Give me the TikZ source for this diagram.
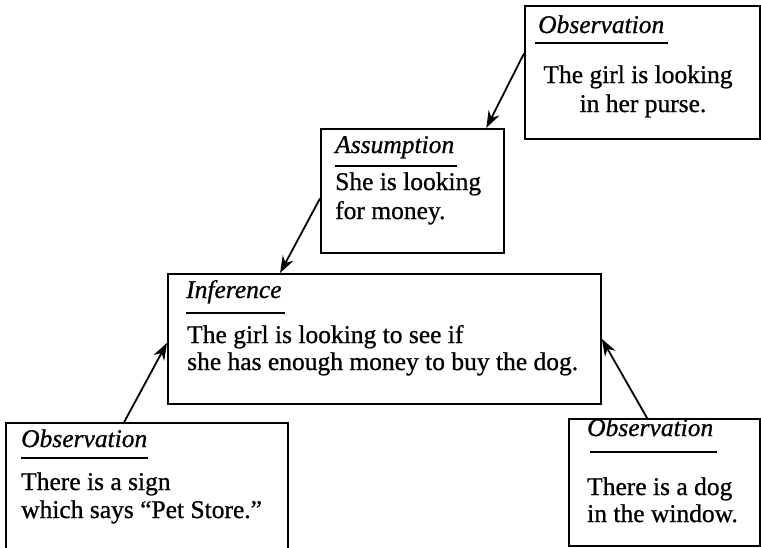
\documentclass[tikz,border=0pt]{standalone}
\usepackage{fontspec}
\setmainfont{Liberation Serif}[UprightFeatures={FakeBold=0.8},ItalicFeatures={FakeBold=0.8}]
\usetikzlibrary{calc,arrows.meta}
\begin{document}
\begin{tikzpicture}[x=1pt,y=-1pt,
  box/.style={draw,line width=1.8pt,anchor=north west,inner sep=0pt},
  ttl/.style={anchor=base west,inner sep=0pt,font=\fontsize{25.5}{28}\selectfont\itshape},
  txt/.style={anchor=base west,inner sep=0pt,align=left,font=\fontsize{25.5}{28}\selectfont},
  uline/.style={line width=1.8pt},
  arr/.style={line width=1.8pt,-{Stealth[length=17pt,width=12pt]}}]
\useasboundingbox (0,0) rectangle (761,547);
% boxes
\node[box,minimum width=235pt,minimum height=133pt] (obsTop) at (524,5) {};
\node[box,minimum width=183pt,minimum height=124pt] (assump) at (320,128) {};
\node[box,minimum width=433pt,minimum height=130pt] (inf) at (167,273) {};
\node[box,minimum width=282pt,minimum height=150pt] (obsL) at (5,422) {};
\node[box,minimum width=191pt,minimum height=127pt] (obsR) at (568,418) {};
% top observation
\node[ttl] (t1) at (538,33) {Observation};
\draw[uline] (535,43) -- (668,43);
\node[anchor=base,inner sep=0pt,align=center,font=\fontsize{25.5}{29}\selectfont] (b1) at (638,112) {The girl is looking\\ \hspace*{10pt}in her purse.};
% assumption
\node[ttl] (t2) at (335,153) {Assumption};
\draw[uline] (335,166) -- (457,166);
\node[txt,font=\fontsize{25.5}{29}\selectfont] (b2) at (335,219) {She is looking\\for money.};
% inference
\node[ttl] (t3) at (186,298) {Inference};
\draw[uline] (186,313) -- (285,313);
\node[txt,font=\fontsize{25.5}{27}\selectfont] (b3) at (187,370) {The girl is looking to see if\\she has enough money to buy the dog.};
% bottom left observation
\node[ttl] (t4) at (21,447) {Observation};
\draw[uline] (21,458) -- (148,458);
\node[txt] (b4) at (21,518) {There is a sign\\which says “Pet Store.”};
% bottom right observation
\node[ttl] (t5) at (587,436) {Observation};
\draw[uline] (590,452) -- (717,452);
\node[txt,font=\fontsize{25.5}{27}\selectfont] (b5) at (587,522) {There is a dog\\in the window.};
% arrows
\draw[arr] ($(obsTop.north west)!0.36!(obsTop.south west)$) -- ($(assump.north west)!0.9!(assump.north east)$);
\draw[arr] ($(assump.north west)!0.56!(assump.south west)$) -- ($(inf.north west)!0.26!(inf.north east)$);
\draw[arr] ($(obsL.north west)!0.42!(obsL.north east)$) -- ($(inf.north west)!0.53!(inf.south west)$);
\draw[arr] ($(obsR.north west)!0.41!(obsR.north east)$) -- (inf.east);
\end{tikzpicture}
\end{document}
